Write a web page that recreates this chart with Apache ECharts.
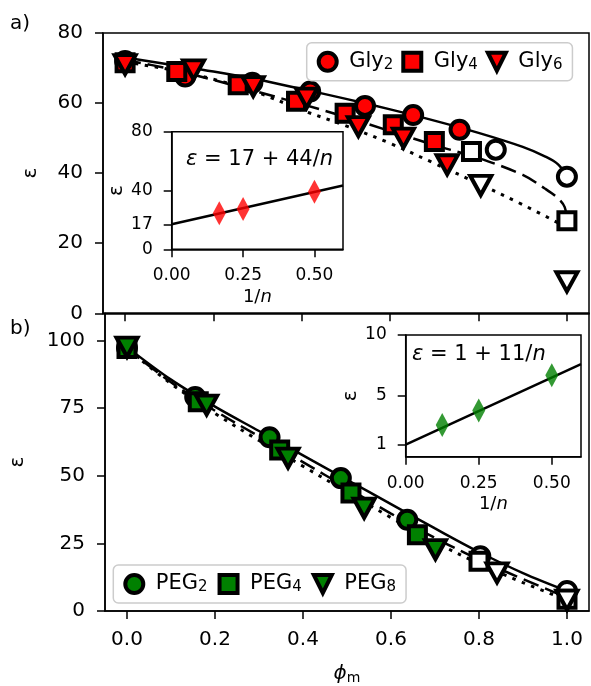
<!DOCTYPE html>
<html><head><meta charset="utf-8">
<script src="https://cdn.jsdelivr.net/npm/echarts@6/dist/echarts.min.js"></script>
<style>html,body{margin:0;padding:0;background:#fff}#c{width:591px;height:686px}</style>
</head><body><div id="c"></div>
<script>
// ---------- data: panel a) Gly ----------
const gly2Phi = [0, 0.136, 0.288, 0.419, 0.543, 0.652, 0.757];
const gly2Eps = [72.0, 67.6, 65.8, 63.3, 59.2, 56.6, 52.4];
const gly2OpenPhi = [0.839, 1.0];
const gly2OpenEps = [46.7, 39.0];
const gly4Phi = [0, 0.117, 0.256, 0.388, 0.498, 0.607, 0.700];
const gly4Eps = [71.5, 69.0, 65.2, 60.5, 57.1, 53.8, 49.0];
const gly4OpenPhi = [0.784, 1.0];
const gly4OpenEps = [46.2, 26.4];
const gly6Phi = [0, 0.155, 0.290, 0.411, 0.528, 0.630, 0.729];
const gly6Eps = [71.0, 69.5, 64.7, 61.4, 53.3, 50.0, 42.4];
const gly6OpenPhi = [0.805, 1.0];
const gly6OpenEps = [36.5, 9.0];
// fitted curves
const gly2FitPhi = [0, 0.1, 0.2, 0.3, 0.4, 0.5, 0.6, 0.7, 0.8, 0.9, 0.95, 0.98, 1.0];
const gly2FitEps = [73, 71, 69, 66.7, 64, 61.2, 58.2, 55, 51.5, 47.5, 44.8, 42.5, 39];
const gly4FitPhi = [0, 0.1, 0.2, 0.3, 0.4, 0.5, 0.6, 0.7, 0.8, 0.9, 0.95, 0.98, 0.995, 1.0];
const gly4FitEps = [72.3, 69.8, 66.6, 63.2, 59.7, 56, 52, 48, 44.3, 39.5, 35.6, 32.8, 30.3, 26.5];
const gly6FitPhi = [0, 0.1, 0.2, 0.3, 0.4, 0.5, 0.6, 0.7, 0.8, 0.9, 1.0];
const gly6FitEps = [71.7, 69.6, 66.8, 63.0, 58.0, 53.5, 48.5, 42.8, 37.0, 31.0, 24.5];
// inset a)
const glyInvN = [1/6, 0.25, 0.5];
const glyInsetEps = [24.5, 27.4, 39.2];
const glyLineX = [0, 0.6];
const glyLineY = [17, 43.4];

// ---------- data: panel b) PEG ----------
const peg2Phi = [0, 0.155, 0.324, 0.486, 0.637];
const peg2Eps = [97.2, 79.1, 64.2, 49.1, 33.7];
const peg2OpenPhi = [0.803, 1.0];
const peg2OpenEps = [20.2, 7.4];
const peg4Phi = [0, 0.162, 0.347, 0.509, 0.660];
const peg4Eps = [97.0, 77.3, 59.5, 43.6, 28.2];
const peg4OpenPhi = [0.800, 1.0];
const peg4OpenEps = [18.4, 4.3];
const peg8Phi = [0, 0.181, 0.366, 0.539, 0.701];
const peg8Eps = [97.5, 76.1, 56.5, 38.0, 22.7];
const peg8OpenPhi = [0.841, 1.0];
const peg8OpenEps = [14.1, 4.0];
const pegFitPhi = [0, 0.1, 0.2, 0.3, 0.4, 0.5, 0.6, 0.7, 0.8, 0.9, 1.0];
const peg2FitEps = [97.5, 85.5, 75.5, 66.5, 57.5, 48.5, 39.5, 30.5, 21.8, 14.0, 7.4];
const peg4FitEps = [97.0, 84.5, 74.0, 64.5, 55.0, 45.5, 36.0, 27.0, 19.0, 11.8, 5.0];
const peg8FitEps = [97.0, 84.0, 73.0, 63.0, 53.5, 44.0, 34.5, 25.5, 17.5, 10.5, 4.0];
// inset b)
const pegInvN = [0.125, 0.25, 0.5];
const pegInsetEps = [2.6, 3.8, 6.7];
const pegLineX = [0, 0.6];
const pegLineY = [1, 7.6];

// ticks
const phiTicks = [0, 0.2, 0.4, 0.6, 0.8, 1.0];
const glyTicks = [0, 20, 40, 60, 80];
const pegTicks = [0, 25, 50, 75, 100];
const insetXTicks = [0, 0.25, 0.5];
const glyInsetYTicks = [0, 17, 40, 80];
const pegInsetYTicks = [1, 5, 10];

const FONT = 'DejaVu Sans';
const zip = (a, b) => a.map((v, i) => [v, b[i]]);
const TRI = 'path://M0,0L20,0L10,20Z';
const SQP = 'path://M0,0L20,0L20,20L0,20Z';
const RED = '#ff0000', GREEN = '#008000';

function xAxisMain(grid, showLabels) {
  return {
    type: 'value', gridIndex: grid, min: -0.05, max: 1.05,
    axisLine: { show: true, onZero: false, lineStyle: { color: '#000', width: 1.5 } },
    axisTick: { show: true, length: 8, customValues: phiTicks, lineStyle: { color: '#000', width: 1.5 } },
    axisLabel: { show: showLabels, customValues: phiTicks, margin: 19, color: '#000', fontSize: 20, fontFamily: FONT,
      formatter: v => v.toFixed(1) },
    splitLine: { show: false },
    name: showLabels ? '{i|ϕ}{s|m}' : '', nameLocation: 'middle', nameGap: 52,
    nameTextStyle: { color: '#000', fontSize: 20, fontFamily: FONT,
      rich: { i: { fontSize: 20, fontStyle: 'italic', fontFamily: FONT, color: '#000', lineHeight: 22 },
              s: { fontSize: 14, fontFamily: FONT, color: '#000', lineHeight: 8, verticalAlign: 'bottom' } } }
  };
}
function yAxisGen(grid, min, max, ticks, gap, fs, margin) {
  return {
    type: 'value', gridIndex: grid, min: min, max: max,
    axisLine: { show: true, onZero: false, lineStyle: { color: '#000', width: 1.5 } },
    axisTick: { show: true, length: 8, customValues: ticks, lineStyle: { color: '#000', width: 1.5 } },
    axisLabel: { customValues: ticks, margin: margin, color: '#000', fontSize: fs, fontFamily: FONT },
    splitLine: { show: false },
    name: 'ε', nameLocation: 'middle', nameRotate: 90, nameGap: gap,
    nameTextStyle: { color: '#000', fontSize: 20, fontFamily: FONT }
  };
}
function xAxisInset(grid) {
  return {
    type: 'value', gridIndex: grid, min: 0, max: 0.6,
    axisLine: { show: true, onZero: false, lineStyle: { color: '#000', width: 1.5 } },
    axisTick: { show: true, length: 8, customValues: insetXTicks, lineStyle: { color: '#000', width: 1.5 } },
    axisLabel: { customValues: insetXTicks, margin: 18, color: '#000', fontSize: 17, fontFamily: FONT,
      formatter: v => v.toFixed(2) },
    splitLine: { show: false },
    name: '1/{i|n}', nameLocation: 'middle', nameGap: 39,
    nameTextStyle: { color: '#000', fontSize: 18, fontFamily: FONT,
      rich: { i: { fontSize: 18, fontStyle: 'italic', fontFamily: FONT, color: '#000' } } }
  };
}
function line(xs, ys, xi, yi, type, width) {
  return { type: 'line', xAxisIndex: xi, yAxisIndex: yi, data: zip(xs, ys), symbol: 'none',
    smooth: 0.35, z: 2, silent: true,
    lineStyle: { color: '#000', width: width, type: type, cap: 'butt' } };
}
function scat(name, xs, ys, xi, yi, symbol, size, fill, z) {
  return { type: 'scatter', name: name, xAxisIndex: xi, yAxisIndex: yi, data: zip(xs, ys),
    symbol: symbol, symbolSize: size, z: z,
    itemStyle: { color: fill, borderColor: '#000', borderWidth: 4, opacity: 1 } };
}
function legendAt(left, top, names, gap) {
  return { left: left, top: top, orient: 'horizontal', itemWidth: 33, itemHeight: 18, itemGap: gap,
    symbolKeepAspect: true,
    padding: [8, 10], backgroundColor: 'rgba(255,255,255,0.85)', borderColor: '#cccccc', borderWidth: 1.5, borderRadius: 5,
    formatter: n => '{b|' + n.slice(0, -1) + '}{s|' + n.slice(-1) + '}',
    textStyle: { color: '#000', fontSize: 21, fontFamily: FONT,
      rich: { b: { fontSize: 21, fontFamily: FONT, color: '#000', lineHeight: 22 },
              s: { fontSize: 15, fontFamily: FONT, color: '#000', lineHeight: 8, verticalAlign: 'bottom' } } },
    itemStyle: { borderColor: '#000', borderWidth: 4 },
    data: [{ name: names[0], icon: 'circle' }, { name: names[1], icon: SQP }, { name: names[2], icon: TRI }] };
}

const chart = echarts.init(document.getElementById('c'), null, { renderer: 'canvas' });
const SQ = 17, CI = 18, TR = [21, 19];
const dashed = [16, 7], dotted = [3.5, 6.5];

const option = {
  animation: false,
  backgroundColor: '#fff',
  grid: [
    { left: 103, top: 33, width: 486, height: 280.3, show: true, borderColor: '#000', borderWidth: 1.5, backgroundColor: 'transparent' },
    { left: 103, top: 313.3, width: 486, height: 298.4, show: true, borderColor: '#000', borderWidth: 1.5, backgroundColor: 'transparent' },
    { left: 171.7, top: 131.7, width: 171.3, height: 117.6, show: true, borderColor: '#000', borderWidth: 1.5, backgroundColor: '#fff' },
    { left: 405.7, top: 335, width: 175.3, height: 121.7, show: true, borderColor: '#000', borderWidth: 1.5, backgroundColor: '#fff' }
  ],
  xAxis: [ xAxisMain(0, false), xAxisMain(1, true), xAxisInset(2), xAxisInset(3) ],
  yAxis: [
    yAxisGen(0, 0, 80, glyTicks, 62, 20, 20),
    yAxisGen(1, 0, 110, pegTicks, 77, 20, 20),
    yAxisGen(2, 0, 80, glyInsetYTicks, 42, 17, 19),
    yAxisGen(3, 0, 10, pegInsetYTicks, 44, 17, 19)
  ],
  legend: [
    legendAt(306.7, 42.7, ['Gly2', 'Gly4', 'Gly6'], 8),
    legendAt(113.3, 565, ['PEG2', 'PEG4', 'PEG8'], 10)
  ],
  graphic: [
    { type: 'text', left: 10, top: 14, style: { text: 'a)', fontSize: 20, fontFamily: FONT, fill: '#000' } },
    { type: 'text', left: 10, top: 319, style: { text: 'b)', fontSize: 20, fontFamily: FONT, fill: '#000' } },
    { type: 'text', left: 186, top: 149, z: 10, style: { text: '{i|ε} = 17 + 44/{i|n}', fontSize: 21, fontFamily: FONT, fill: '#000',
      rich: { i: { fontSize: 21, fontStyle: 'italic', fontFamily: FONT, fill: '#000' } } } },
    { type: 'text', left: 412, top: 344, z: 10, style: { text: '{i|ε} = 1 + 11/{i|n}', fontSize: 21, fontFamily: FONT, fill: '#000',
      rich: { i: { fontSize: 21, fontStyle: 'italic', fontFamily: FONT, fill: '#000' } } } }
  ],
  series: [
    line(gly2FitPhi, gly2FitEps, 0, 0, 'solid', 2.5),
    line(gly4FitPhi, gly4FitEps, 0, 0, dashed, 2.5),
    line(gly6FitPhi, gly6FitEps, 0, 0, dotted, 3),
    scat('Gly2', gly2Phi, gly2Eps, 0, 0, 'circle', CI, RED, 3),
    scat('Gly4', gly4Phi, gly4Eps, 0, 0, SQP, SQ, RED, 4),
    scat('Gly6', gly6Phi, gly6Eps, 0, 0, TRI, TR, RED, 5),
    scat('g2o', gly2OpenPhi, gly2OpenEps, 0, 0, 'circle', CI, '#fff', 3),
    scat('g4o', gly4OpenPhi, gly4OpenEps, 0, 0, SQP, SQ, '#fff', 4),
    scat('g6o', gly6OpenPhi, gly6OpenEps, 0, 0, TRI, TR, '#fff', 5),

    line(pegFitPhi, peg2FitEps, 1, 1, 'solid', 2.5),
    line(pegFitPhi, peg4FitEps, 1, 1, dashed, 2.5),
    line(pegFitPhi, peg8FitEps, 1, 1, dotted, 3),
    scat('PEG2', peg2Phi, peg2Eps, 1, 1, 'circle', CI, GREEN, 3),
    scat('PEG4', peg4Phi, peg4Eps, 1, 1, SQP, SQ, GREEN, 4),
    scat('PEG8', peg8Phi, peg8Eps, 1, 1, TRI, TR, GREEN, 5),
    scat('p2o', peg2OpenPhi, peg2OpenEps, 1, 1, 'circle', CI, '#fff', 3),
    scat('p4o', peg4OpenPhi, peg4OpenEps, 1, 1, SQP, SQ, '#fff', 4),
    scat('p8o', peg8OpenPhi, peg8OpenEps, 1, 1, TRI, TR, '#fff', 5),

    { type: 'line', xAxisIndex: 2, yAxisIndex: 2, data: zip(glyLineX, glyLineY), symbol: 'none', z: 6,
      lineStyle: { color: '#000', width: 2.5 } },
    { type: 'scatter', xAxisIndex: 2, yAxisIndex: 2, data: zip(glyInvN, glyInsetEps), symbol: 'diamond',
      symbolSize: [13, 24], z: 7, itemStyle: { color: RED, borderWidth: 0 } },
    { type: 'line', xAxisIndex: 3, yAxisIndex: 3, data: zip(pegLineX, pegLineY), symbol: 'none', z: 6,
      lineStyle: { color: '#000', width: 2.5 } },
    { type: 'scatter', xAxisIndex: 3, yAxisIndex: 3, data: zip(pegInvN, pegInsetEps), symbol: 'diamond',
      symbolSize: [13, 24], z: 7, itemStyle: { color: GREEN, borderWidth: 0 } }
  ]
};
chart.setOption(option);
</script>
</body></html>
